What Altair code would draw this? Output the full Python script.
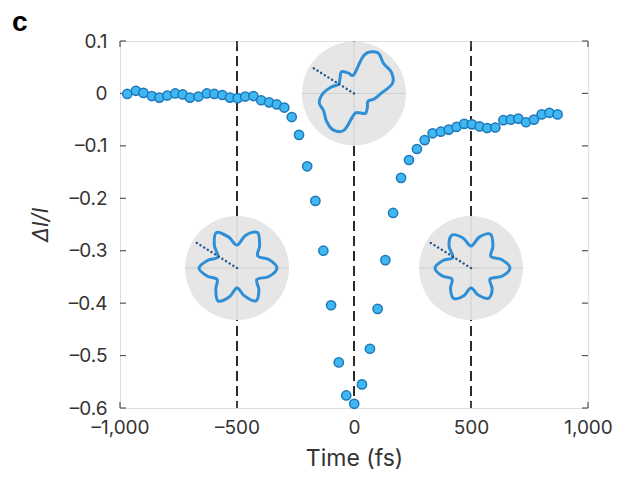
import math
import altair as alt
import pandas as pd

# ---- measured data ----
time_fs = [-969, -932, -900, -864, -832, -798, -764, -732, -701, -665,
           -629, -597, -563, -530, -497, -465, -430, -397, -363, -330,
           -298, -266, -235, -200, -165, -131, -98, -65, -33, 1,
           34, 68, 101, 134, 167, 201, 235, 269, 302, 336,
           371, 405, 438, 471, 504, 537, 569, 604, 638, 670,
           702, 735, 769, 802, 835, 870]
delta_i = [-0.001, 0.005, 0.001, -0.005, -0.008, -0.004, 0.000, -0.002, -0.008, -0.006,
           0.000, -0.001, -0.003, -0.008, -0.009, -0.006, -0.005, -0.013, -0.017, -0.021,
           -0.027, -0.045, -0.079, -0.139, -0.205, -0.300, -0.404, -0.513, -0.576, -0.592,
           -0.555, -0.487, -0.411, -0.318, -0.228, -0.161, -0.127, -0.106, -0.089, -0.076,
           -0.073, -0.069, -0.064, -0.058, -0.059, -0.063, -0.066, -0.065, -0.051, -0.050,
           -0.048, -0.055, -0.050, -0.040, -0.037, -0.040]

vline_times = [-500, 0, 500]
x_ticks = [-1000, -500, 0, 500, 1000]
y_ticks = [0.1, 0.0, -0.1, -0.2, -0.3, -0.4, -0.5, -0.6]

# insets (polar plots): centre in data units, radius profile in px every 15 degrees
inset_names = ["before", "overlap", "after"]
inset_time = [-500, 0, 500]
inset_delta = [-0.333, 0.0, -0.333]
inset_angles = [0, 15, 30, 45, 60, 75, 90, 105, 120, 135, 150, 165,
                180, 195, 210, 225, 240, 255, 270, 285, 300, 315, 330, 345]
radius_before = [40, 33, 24, 32, 41, 34, 23, 32, 41, 32, 22, 30,
                 38, 31, 23, 30, 38, 30, 20, 29, 38, 31, 23, 33]
radius_overlap = [27, 40, 43, 42, 47, 40, 19, 21, 25, 20, 18, 24,
                  31, 36, 35, 39, 42, 38, 21, 20, 23, 19, 16, 21]
radius_after = [39, 32, 23, 31, 39, 32, 22, 31, 38, 31, 21, 29,
                36, 30, 22, 29, 35, 29, 20, 28, 35, 30, 22, 32]
pol_angle_deg = 148
pol_length_px = 50

# ---- geometry ----
W, H = 468, 367
X_DOM = [-1000, 1000]
Y_DOM = [-0.6, 0.1]
FS_PX = (X_DOM[1] - X_DOM[0]) / W
VAL_PX = (Y_DOM[1] - Y_DOM[0]) / H
R_PX = 52

FONT = "Inter"

xs = alt.Scale(domain=X_DOM, nice=False, zero=False)
ys = alt.Scale(domain=Y_DOM, nice=False, zero=False)
xaxis = alt.Axis(values=x_ticks, title="Time (fs)", grid=False, ticks=False, domain=False,
                 labelExpr="replace(format(datum.value, ','), '\u2212', '\u2013')",
                 labelFont=FONT, labelFontSize=19, labelColor="#333333", labelPadding=10,
                 titleFont=FONT, titleFontSize=23, titleFontWeight="normal",
                 titleColor="#333333", titlePadding=10, labelFlush=False)
yaxis = alt.Axis(values=y_ticks, title="\u0394I/I", grid=False, ticks=False, domain=False,
                 labelExpr="replace(format(datum.value, '.1~f'), '\u2212', '\u2013')",
                 labelFont=FONT, labelFontSize=19, labelColor="#333333", labelPadding=13,
                 titleFont=FONT, titleFontSize=22, titleFontWeight="normal",
                 titleFontStyle="italic", titleColor="#333333", titlePadding=16,
                 labelFlush=False)


def X(f):
    return alt.X(f, type="quantitative", scale=xs, axis=xaxis)


def Y(f):
    return alt.Y(f, type="quantitative", scale=ys, axis=yaxis)


pts = pd.DataFrame({"t": time_fs, "d": delta_i})
vl = pd.DataFrame({"t": vline_times})
xt = pd.DataFrame({"t": x_ticks})
yt = pd.DataFrame({"d": y_ticks})
centres = pd.DataFrame({"inset": inset_names, "t": inset_time, "d": inset_delta})

profiles = {"before": radius_before, "overlap": radius_overlap, "after": radius_after}
star_rows, cross_rows, pol_rows = [], [], []
for name, cx, cy in zip(inset_names, inset_time, inset_delta):
    for k, (a, r) in enumerate(zip(inset_angles, profiles[name])):
        th = math.radians(a)
        star_rows.append({"inset": name, "k": k,
                          "x": cx + r * math.cos(th) * FS_PX,
                          "y": cy + r * math.sin(th) * VAL_PX})
    cross_rows.append({"x": cx - R_PX * FS_PX, "x2": cx + R_PX * FS_PX, "y": cy, "y2": cy})
    cross_rows.append({"x": cx, "x2": cx, "y": cy - R_PX * VAL_PX, "y2": cy + R_PX * VAL_PX})
    th = math.radians(pol_angle_deg)
    pol_rows.append({"x": cx, "y": cy,
                     "x2": cx + pol_length_px * math.cos(th) * FS_PX,
                     "y2": cy + pol_length_px * math.sin(th) * VAL_PX})
star = pd.DataFrame(star_rows)
cross = pd.DataFrame(cross_rows)
pol = pd.DataFrame(pol_rows)

TICK = 6
tick_style = dict(color="#555555", strokeWidth=1.2)

dashed = alt.Chart(vl).mark_rule(color="#2a2a2a", strokeWidth=2, strokeDash=[10, 5]).encode(x=X("t"))
xt_bot = alt.Chart(xt).mark_rule(**tick_style).encode(x=X("t"), y=alt.value(H), y2=alt.value(H - TICK))
xt_top = alt.Chart(xt).mark_rule(**tick_style).encode(x=X("t"), y=alt.value(0), y2=alt.value(TICK))
yt_left = alt.Chart(yt).mark_rule(**tick_style).encode(y=Y("d"), x=alt.value(0), x2=alt.value(TICK))
yt_right = alt.Chart(yt).mark_rule(**tick_style).encode(y=Y("d"), x=alt.value(W), x2=alt.value(W - TICK))

discs = alt.Chart(centres).mark_circle(size=(2 * R_PX) ** 2, color="#e6e6e6", opacity=1).encode(
    x=X("t"), y=Y("d"))
crosshair = alt.Chart(cross).mark_rule(color="#cacaca", strokeWidth=0.8).encode(
    x=X("x"), x2="x2", y=Y("y"), y2="y2")
stars = alt.Chart(star).mark_line(color="#2e8fd6", strokeWidth=3, interpolate="cardinal-closed").encode(
    x=X("x"), y=Y("y"), detail="inset:N", order="k:Q")
polline = alt.Chart(pol).mark_rule(color="#27558f", strokeWidth=2.4, strokeDash=[0.1, 4.2],
                                   strokeCap="round").encode(
    x=X("x"), x2="x2", y=Y("y"), y2="y2")
points = alt.Chart(pts).mark_circle(size=85, color="#3eb7f3", stroke="#1f78b8", strokeWidth=1.5,
                                    opacity=1).encode(x=X("t"), y=Y("d"))

chart = alt.layer(dashed, xt_bot, xt_top, yt_left, yt_right, discs, crosshair, stars, polline, points).properties(
    width=W, height=H,
    autosize=alt.AutoSizeParams(type="none"),
    padding={"left": 112, "top": 33, "right": 45, "bottom": 65},
    title=alt.TitleParams(text="c", anchor="start", frame="group", dx=-108, dy=5, offset=0,
                          baseline="top", fontSize=28, fontWeight=900, font="Liberation Sans",
                          color="#000000"),
).configure_view(stroke="#8c8c8c", strokeWidth=1.5).configure(background="white")

chart.save("out.html", embed_options={"renderer": "svg", "actions": False})
